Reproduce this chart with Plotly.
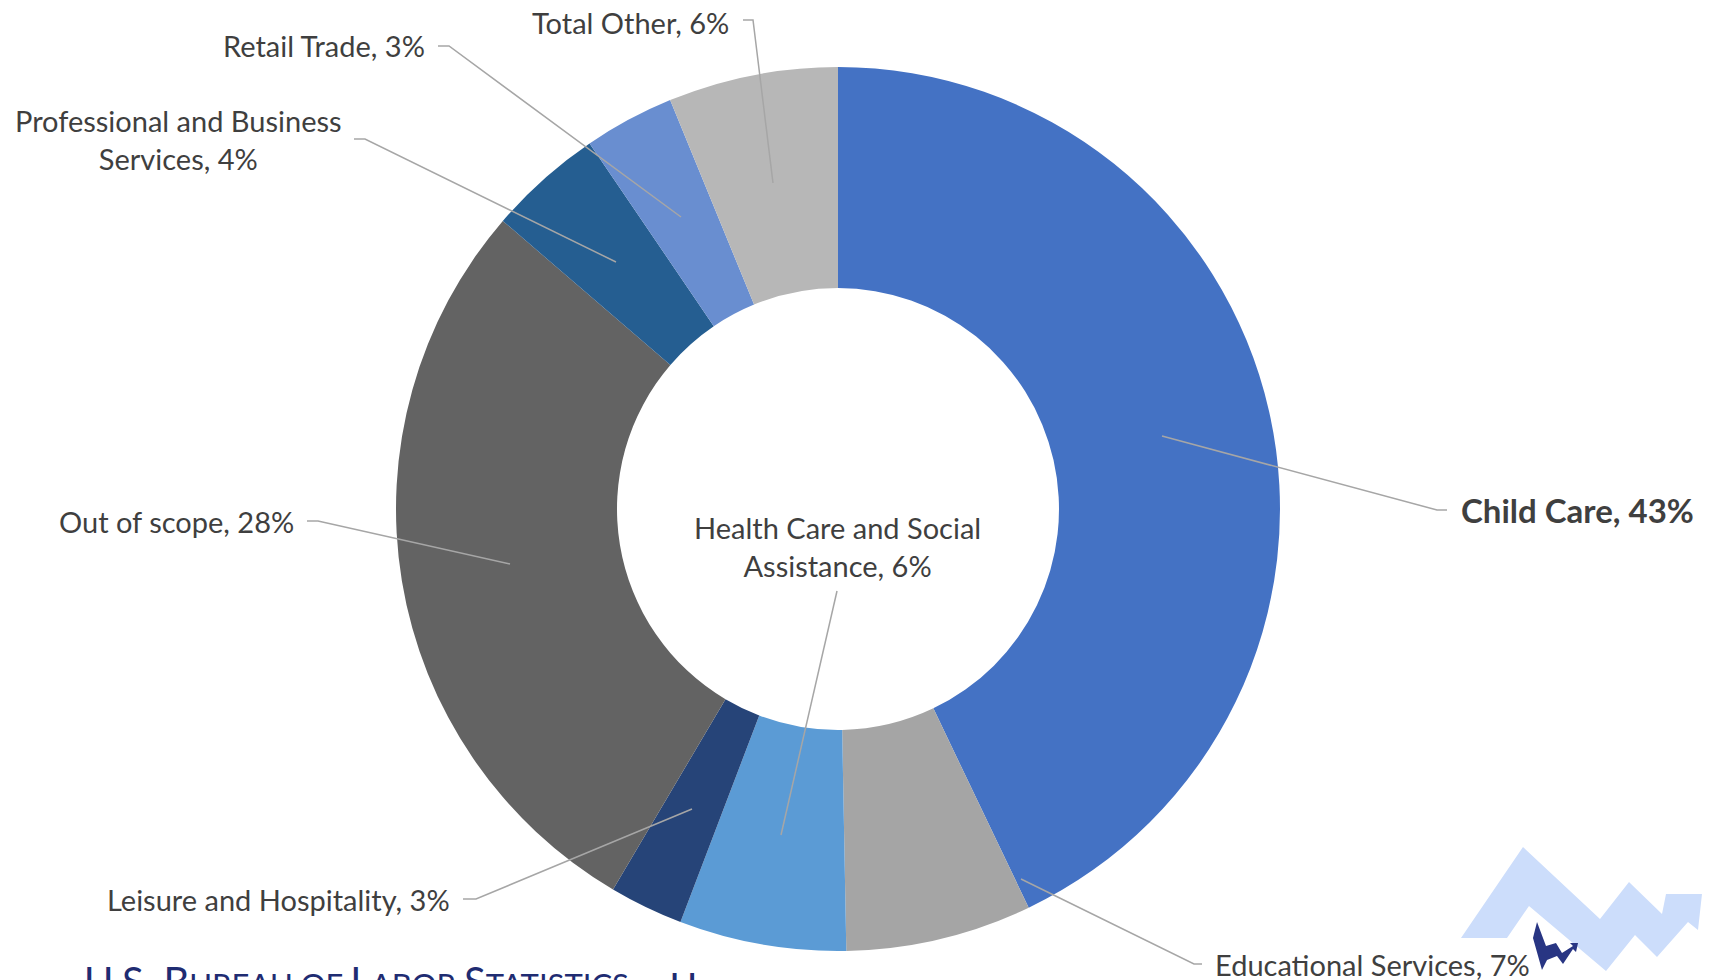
import plotly.graph_objects as go

# data (shares in percent)
labels = ["Child Care", "Educational Services", "Health Care and Social Assistance",
          "Leisure and Hospitality", "Out of scope", "Professional and Business Services",
          "Retail Trade", "Total Other"]
shares = [42.9, 6.8, 6.1, 2.7, 27.8, 4.2, 3.3, 6.2]
colors = ["#4472C4", "#A5A5A5", "#5B9BD5", "#264478", "#636363", "#255E91", "#698ED0", "#B7B7B7"]

# the page body has an 8px margin, so the figure is drawn 8px in from the window corner
OFF = 8
W, H = 1717 - OFF, 980 - OFF
FONT = "Lato"
TXT = "#3F3F3F"


def px(x, y):
    # window pixel -> paper fraction
    return (x - OFF) / W, 1 - (y - OFF) / H


def path_of(points, close=False):
    s = "M " + " L ".join(f"{px(a, b)[0]:.5f},{px(a, b)[1]:.5f}" for a, b in points)
    return s + (" Z" if close else "")


# pie placement (window pixels): center and outer radius
cx, cy, R = 838, 509, 442
x0, y1 = px(cx - R, cy - R)
x1, y0 = px(cx + R, cy + R)

fig = go.Figure(go.Pie(
    labels=labels, values=shares, sort=False, direction="clockwise", rotation=0,
    hole=0.5, marker=dict(colors=colors, line=dict(width=0)),
    textinfo="none", showlegend=False,
    domain=dict(x=[x0, x1], y=[y0, y1]),
))

# label placement: (text pos, anchor, leader path points)
label_layout = {
    "Child Care": ((1459, 510), "left", [(1447, 510), (1437, 510), (1162, 436)]),
    "Educational Services": ((1213, 964), "left", [(1202, 964), (1194, 964), (1021, 879)]),
    "Health Care and Social Assistance": ((837, 546), "center", [(837, 591), (781, 835)]),
    "Leisure and Hospitality": ((452, 899), "right", [(463, 899), (476, 899), (692, 809)]),
    "Out of scope": ((296, 521), "right", [(307, 521), (318, 521), (510, 564)]),
    "Professional and Business Services": ((178, 140), "center", [(354, 139), (365, 139), (616, 262)]),
    "Retail Trade": ((427, 46), "right", [(438, 46), (449, 46), (681, 217)]),
    "Total Other": ((731, 23), "right", [(743, 20), (753, 20), (773, 183)]),
}
wrapped = {
    "Health Care and Social Assistance": "Health Care and Social<br>Assistance",
    "Professional and Business Services": "Professional and Business<br>Services",
}

for name, val in zip(labels, shares):
    (tx, ty), anchor, pts = label_layout[name]
    text = f"{wrapped.get(name, name)}, {round(val)}%"
    size = 29
    if name == "Child Care":
        text = f"<b>{text}</b>"
        size = 33
    x, y = px(tx, ty)
    fig.add_annotation(x=x, y=y, xref="paper", yref="paper", text=text, showarrow=False,
                       xanchor=anchor, yanchor="middle", align="center",
                       font=dict(family=FONT, size=size, color=TXT))
    fig.add_shape(type="path", path=path_of(pts), xref="paper", yref="paper",
                  line=dict(color="#A6A6A6", width=1.5))

# footer (cut off at the bottom edge)
fx, fy = px(82, 955)
big = "<span style='font-size:40px'>{}</span>"
fig.add_annotation(
    x=fx, y=fy, xref="paper", yref="paper", xanchor="left", yanchor="top", showarrow=False,
    text=big.format("U.S. B") + "UREAU OF " + big.format("L") + "ABOR " + big.format("S")
         + "TATISTICS  \u2022 <b>bls.gov</b>",
    font=dict(family=FONT, size=31, color="#1F2C72"))

# logo
light = [(1461, 938), (1523, 847), (1600, 919), (1629, 882), (1662, 914), (1666, 894), (1702, 894),
         (1698, 930), (1688, 922), (1657, 957), (1635, 935), (1606, 971), (1529, 906), (1507, 938)]
dark = [(1533, 938), (1537, 922), (1546, 946), (1556, 943), (1562, 953), (1573, 946), (1570, 943),
        (1578, 943), (1576, 952), (1573, 949), (1563, 964), (1557, 956), (1547, 960), (1542, 970)]
fig.add_shape(type="path", path=path_of(light, True), xref="paper", yref="paper",
              fillcolor="#CCDDFB", line=dict(width=0))
fig.add_shape(type="path", path=path_of(dark, True), xref="paper", yref="paper",
              fillcolor="#283583", line=dict(width=0))

fig.update_layout(width=W, height=H, margin=dict(l=0, r=0, t=0, b=0),
                  paper_bgcolor="white", plot_bgcolor="white")
fig.write_html("out.html")
